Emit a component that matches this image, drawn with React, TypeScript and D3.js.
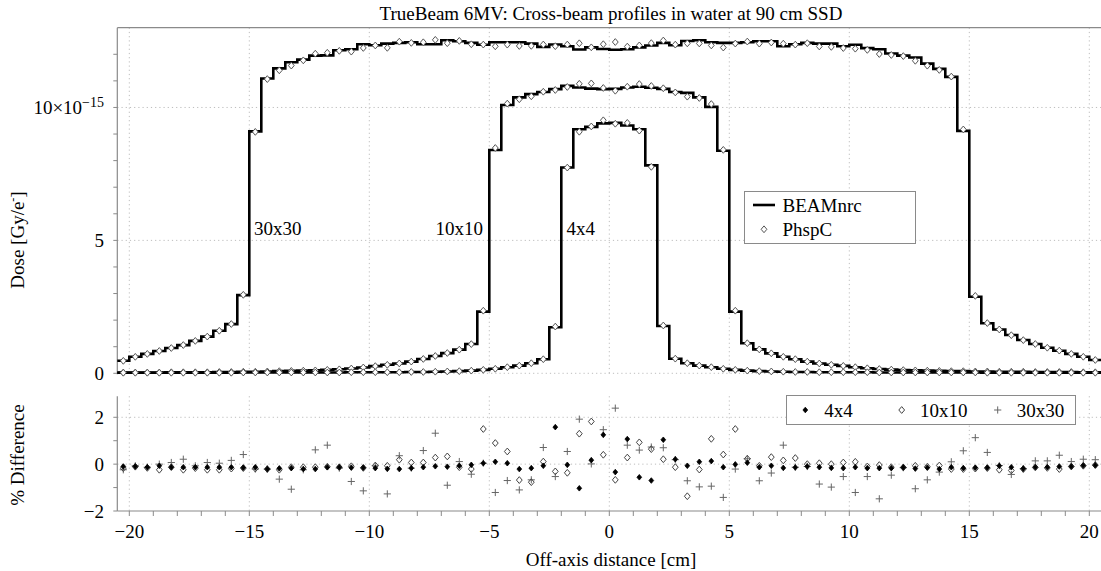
import React from "react";
import * as d3 from "d3";

// Bin centres: -20.25 ... 20.25 in 0.5 cm steps (82 bins), bin width 0.5 cm
const binCenters: number[] = [
  -20.25, -19.75, -19.25, -18.75, -18.25, -17.75, -17.25, -16.75, -16.25, -15.75,
  -15.25, -14.75, -14.25, -13.75, -13.25, -12.75, -12.25, -11.75, -11.25, -10.75,
  -10.25, -9.75, -9.25, -8.75, -8.25, -7.75, -7.25, -6.75, -6.25, -5.75,
  -5.25, -4.75, -4.25, -3.75, -3.25, -2.75, -2.25, -1.75, -1.25, -0.75,
  -0.25, 0.25, 0.75, 1.25, 1.75, 2.25, 2.75, 3.25, 3.75, 4.25,
  4.75, 5.25, 5.75, 6.25, 6.75, 7.25, 7.75, 8.25, 8.75, 9.25,
  9.75, 10.25, 10.75, 11.25, 11.75, 12.25, 12.75, 13.25, 13.75, 14.25,
  14.75, 15.25, 15.75, 16.25, 16.75, 17.25, 17.75, 18.25, 18.75, 19.25,
  19.75, 20.25,
];
const binWidth = 0.5;

// BEAMnrc dose (x1e-15 Gy/e-)
const beam30: number[] = [
  0.47, 0.62, 0.73, 0.84, 0.95, 1.06, 1.22, 1.38, 1.60, 1.85,
  2.94, 9.10, 11.09, 11.47, 11.70, 11.80, 11.95, 11.96, 12.15, 12.19,
  12.38, 12.34, 12.40, 12.43, 12.45, 12.38, 12.38, 12.53, 12.49, 12.43,
  12.36, 12.45, 12.45, 12.45, 12.40, 12.28, 12.37, 12.30, 12.18, 12.26,
  12.20, 12.17, 12.19, 12.26, 12.33, 12.43, 12.34, 12.50, 12.53, 12.45,
  12.43, 12.43, 12.45, 12.49, 12.49, 12.30, 12.38, 12.43, 12.40, 12.40,
  12.30, 12.36, 12.23, 12.19, 12.03, 11.95, 11.88, 11.65, 11.45, 11.15,
  9.12, 2.88, 1.88, 1.65, 1.44, 1.25, 1.10, 0.96, 0.85, 0.73,
  0.62, 0.50,
];
const beam10: number[] = [
  0.03, 0.03, 0.03, 0.03, 0.04, 0.04, 0.04, 0.04, 0.05, 0.05,
  0.06, 0.06, 0.07, 0.08, 0.09, 0.10, 0.11, 0.13, 0.15, 0.18,
  0.22, 0.27, 0.32, 0.37, 0.44, 0.54, 0.65, 0.76, 0.89, 1.10,
  2.32, 8.40, 10.09, 10.38, 10.50, 10.58, 10.69, 10.81, 10.75, 10.71,
  10.69, 10.70, 10.75, 10.78, 10.74, 10.70, 10.58, 10.55, 10.38, 10.02,
  8.37, 2.32, 1.13, 0.90, 0.75, 0.62, 0.53, 0.44, 0.37, 0.32,
  0.28, 0.23, 0.19, 0.16, 0.14, 0.12, 0.11, 0.10, 0.09, 0.08,
  0.08, 0.07, 0.07, 0.06, 0.06, 0.06, 0.05, 0.05, 0.05, 0.05,
  0.04, 0.04,
];
const beam4: number[] = [
  0.02, 0.02, 0.02, 0.02, 0.02, 0.02, 0.02, 0.02, 0.02, 0.02,
  0.03, 0.03, 0.03, 0.03, 0.03, 0.03, 0.03, 0.03, 0.03, 0.04,
  0.04, 0.04, 0.04, 0.04, 0.05, 0.05, 0.06, 0.07, 0.08, 0.10,
  0.13, 0.17, 0.23, 0.29, 0.38, 0.53, 1.73, 7.74, 9.18, 9.27,
  9.40, 9.42, 9.32, 9.18, 7.82, 1.78, 0.55, 0.38, 0.29, 0.23,
  0.17, 0.13, 0.10, 0.08, 0.07, 0.06, 0.05, 0.05, 0.04, 0.04,
  0.04, 0.04, 0.04, 0.03, 0.03, 0.03, 0.03, 0.03, 0.03, 0.03,
  0.03, 0.03, 0.02, 0.02, 0.02, 0.02, 0.02, 0.02, 0.02, 0.02,
  0.02, 0.02,
];

// % difference (PhspC - BEAMnrc) / BEAMnrc
const diff4: number[] = [
  -0.10, -0.10, -0.13, -0.07, -0.13, -0.13, -0.13, -0.13, -0.13, -0.13,
  -0.15, -0.13, -0.21, -0.18, -0.17, -0.21, -0.21, -0.13, -0.13, -0.15,
  -0.15, -0.17, -0.20, -0.21, -0.17, -0.13, -0.09, -0.11, -0.07, -0.03,
  0.04, 0.10, 0.04, -0.21, -0.17, -0.07, 1.58, -0.03, -1.03, 0.17,
  1.25, -0.34, 1.07, -0.56, -0.70, 1.04, 0.21, -0.07, 0.10, 0.13,
  -0.13, -0.01, 0.06, -0.13, -0.07, -0.16, -0.14, -0.10, -0.13, -0.16,
  -0.17, -0.13, -0.17, -0.17, -0.17, -0.14, -0.19, -0.15, -0.21, -0.13,
  -0.17, -0.15, -0.15, -0.07, -0.13, -0.19, -0.13, -0.13, -0.10, -0.10,
  -0.06, -0.05,
];
const diff10: number[] = [
  -0.17, -0.11, -0.16, -0.24, -0.13, -0.24, -0.17, -0.24, -0.24, -0.19,
  -0.17, -0.19, -0.21, -0.24, -0.13, -0.13, -0.13, -0.11, -0.13, -0.09,
  -0.16, -0.06, -0.07, 0.19, 0.07, 0.07, 0.28, 0.33, -0.13, -0.21,
  1.50, 0.90, 0.54, -0.68, -0.77, 0.11, -0.31, -0.37, 1.30, 1.82,
  0.40, -0.67, 0.28, 0.93, 0.64, 0.21, -0.13, -1.37, -0.23, 1.08,
  0.41, 1.50, 0.23, -0.07, 0.30, 0.16, 0.26, 0.00, 0.04, 0.00,
  0.07, 0.10, -0.10, -0.04, -0.13, -0.14, -0.07, -0.11, -0.06, -0.21,
  -0.21, -0.19, -0.17, -0.24, -0.27, -0.21, -0.14, -0.16, -0.21, -0.10,
  -0.07, -0.04,
];
const diff30: number[] = [
  -0.24, -0.07, -0.13, 0.00, 0.07, 0.21, -0.07, 0.07, 0.04, 0.16,
  0.41, -0.21, -0.21, -0.64, -1.07, -0.24, 0.61, 0.81, -0.17, -0.74,
  -1.14, -0.07, -1.27, 0.36, -0.17, 0.58, 1.32, -0.90, 0.11, -0.43,
  0.04, -1.21, -0.70, -1.10, -0.67, 0.71, -0.53, 0.54, 1.92, 0.01,
  1.47, 2.39, 0.81, 0.60, 0.73, 0.70, 0.19, -0.71, -0.97, -0.94,
  -1.42, -0.21, 0.23, -0.71, -0.38, 0.81, -0.13, -0.10, -0.85, -0.98,
  -0.53, -1.21, -0.53, -1.48, -0.47, -0.15, -1.05, -0.67, -0.34, 0.10,
  0.57, 1.13, 0.50, -0.06, -0.44, -0.19, 0.14, 0.14, 0.38, 0.11,
  0.21, 0.19,
];

const xMajorTicks: number[] = [-20, -15, -10, -5, 0, 5, 10, 15, 20];
const xTickLabels: string[] = ["\u221220", "\u221215", "\u221210", "\u22125", "0", "5", "10", "15", "20"];
const topMajorTicks: number[] = [0, 5, 10];
const bottomMajorTicks: number[] = [-2, 0, 2];
const bottomTickLabels: string[] = ["\u22122", "0", "2"];
const fieldLabels: string[] = ["30x30", "10x10", "4x4"];

const FONT = "'Liberation Serif', 'Times New Roman', serif";
const FS = 19;

const W = 1101;
const H = 571;
const left = 117.3;
const right = 1101.3;

const x = d3.scaleLinear().domain([-20.5, 20.5]).range([left, right]);
const yTop = d3.scaleLinear().domain([0, 13]).range([373.3, 27.7]);
const yBot = d3.scaleLinear().domain([-2, 2.9]).range([511, 396.2]);

const stepLine = d3
  .line<[number, number]>()
  .x((d) => x(d[0]))
  .y((d) => yTop(d[1]))
  .curve(d3.curveStepAfter);

function stepPoints(vals: number[]): [number, number][] {
  const pts: [number, number][] = vals.map((v, i) => [binCenters[i] - binWidth / 2, v]);
  pts.push([binCenters[binCenters.length - 1] + binWidth / 2, vals[vals.length - 1]]);
  return pts;
}

function diamond(cx: number, cy: number, r: number) {
  return `M${cx},${cy - r}L${cx + r * 0.85},${cy}L${cx},${cy + r}L${cx - r * 0.85},${cy}Z`;
}
function plus(cx: number, cy: number, r: number) {
  return `M${cx - r},${cy}H${cx + r}M${cx},${cy - r}V${cy + r}`;
}

const GRID = "#bdbdbd";
const AXIS = "#8a8a8a";

export default function App() {
  const curves = [
    { beam: beam30, diff: diff30 },
    { beam: beam10, diff: diff10 },
    { beam: beam4, diff: diff4 },
  ];
  const xMinor = d3.range(-20, 21, 1);
  const topMinor = d3.range(0, 13, 1);
  const botMinor = d3.range(-2, 3, 1);

  return (
    <svg width={W} height={H} style={{ display: "block", position: "absolute", left: 0, top: 0 }} fontFamily={FONT}>
      <rect x={0} y={0} width={W} height={H} fill="#fff" />
      {/* title */}
      <text x={611} y={20} textAnchor="middle" fontSize={FS}>
        TrueBeam 6MV: Cross-beam profiles in water at 90 cm SSD
      </text>

      {/* grid top */}
      {xMajorTicks.map((t) => (
        <line key={"gvt" + t} x1={x(t)} x2={x(t)} y1={yTop(13)} y2={yTop(0)} stroke={GRID} strokeDasharray="1.2,3" />
      ))}
      {topMajorTicks.map((t) => (
        <line key={"ght" + t} x1={left} x2={right} y1={yTop(t)} y2={yTop(t)} stroke={GRID} strokeDasharray="1.2,3" />
      ))}
      {/* grid bottom */}
      {xMajorTicks.map((t) => (
        <line key={"gvb" + t} x1={x(t)} x2={x(t)} y1={yBot(2.9)} y2={yBot(-2)} stroke={GRID} strokeDasharray="1.2,3" />
      ))}
      {bottomMajorTicks.filter((t) => t > -2).map((t) => (
        <line key={"ghb" + t} x1={left} x2={right} y1={yBot(t)} y2={yBot(t)} stroke={GRID} strokeDasharray="1.2,3" />
      ))}

      {/* top axes */}
      <line x1={left} x2={right} y1={yTop(13)} y2={yTop(13)} stroke={AXIS} strokeWidth={1.2} />
      <line x1={left} x2={left} y1={yTop(13)} y2={yTop(0) + 1} stroke={AXIS} strokeWidth={1.2} />
      {topMinor.map((t) => (
        <line key={"tt" + t} x1={left - 4} x2={left} y1={yTop(t)} y2={yTop(t)} stroke={AXIS} />
      ))}
      <text x={104} y={yTop(0) + 6.5} textAnchor="end" fontSize={FS}>0</text>
      <text x={104} y={yTop(5) + 6.5} textAnchor="end" fontSize={FS}>5</text>
      <text x={104} y={yTop(10) + 6.5} textAnchor="end" fontSize={FS}>
        10×10<tspan dy={-7} fontSize={14}>−15</tspan>
      </text>
      <text transform={`translate(24,240) rotate(-90)`} textAnchor="middle" fontSize={FS}>
        Dose [Gy/e<tspan dy={-7} fontSize={12}>-</tspan><tspan dy={7}>]</tspan>
      </text>

      {/* step curves */}
      {curves.map((c, k) => (
        <path key={"c" + k} d={stepLine(stepPoints(c.beam)) || ""} fill="none" stroke="#000" strokeWidth={2.6} />
      ))}
      {/* PhspC diamonds */}
      {curves.map((c, k) =>
        c.beam.map((v, i) => (
          <path
            key={"p" + k + "-" + i}
            d={diamond(x(binCenters[i]), yTop(v * (1 + c.diff[i] / 100)), 3.4)}
            fill="#fff"
            stroke="#555"
            strokeWidth={1}
          />
        ))
      )}

      {/* curve labels */}
      <text x={254} y={yTop(5.45) + 6.5} fontSize={FS}>{fieldLabels[0]}</text>
      <text x={483} y={yTop(5.45) + 6.5} textAnchor="end" fontSize={FS}>{fieldLabels[1]}</text>
      <text x={566.5} y={yTop(5.45) + 6.5} fontSize={FS}>{fieldLabels[2]}</text>

      {/* top legend */}
      <rect x={744.5} y={191.5} width={171} height={52} fill="#fff" stroke={AXIS} strokeWidth={1} />
      <line x1={753} x2={775} y1={205} y2={205} stroke="#000" strokeWidth={2.6} />
      <text x={782.5} y={211.5} fontSize={FS}>BEAMnrc</text>
      <path d={diamond(764, 229.3, 3.4)} fill="#fff" stroke="#555" strokeWidth={1} />
      <text x={782.5} y={235.5} fontSize={FS}>PhspC</text>

      {/* bottom axes */}
      <line x1={left} x2={right} y1={yBot(-2)} y2={yBot(-2)} stroke={AXIS} strokeWidth={1.2} />
      <line x1={left} x2={left} y1={yBot(2.9)} y2={yBot(-2)} stroke={AXIS} strokeWidth={1.2} />
      {botMinor.map((t) => (
        <line key={"bt" + t} x1={left - 4} x2={left} y1={yBot(t)} y2={yBot(t)} stroke={AXIS} />
      ))}
      {xMinor.map((t) => (
        <line key={"xt" + t} x1={x(t)} x2={x(t)} y1={yBot(-2)} y2={yBot(-2) + 5} stroke={AXIS} />
      ))}
      {xMajorTicks.map((t, i) => (
        <text key={"xl" + t} x={x(t)} y={538} textAnchor="middle" fontSize={FS}>{xTickLabels[i]}</text>
      ))}
      {bottomMajorTicks.map((t, i) => (
        <text key={"yl" + t} x={104} y={yBot(t) + 6.5} textAnchor="end" fontSize={FS}>{bottomTickLabels[i]}</text>
      ))}
      <text transform={`translate(24,455) rotate(-90)`} textAnchor="middle" fontSize={FS}>% Difference</text>
      <text x={611} y={566} textAnchor="middle" fontSize={FS}>Off-axis distance [cm]</text>

      {/* difference markers */}
      {diff30.map((v, i) => (
        <path key={"d30-" + i} d={plus(x(binCenters[i]), yBot(v), 3.6)} stroke="#666" strokeWidth={1} fill="none" />
      ))}
      {diff10.map((v, i) => (
        <path key={"d10-" + i} d={diamond(x(binCenters[i]), yBot(v), 3.4)} stroke="#444" strokeWidth={1} fill="none" />
      ))}
      {diff4.map((v, i) => (
        <path key={"d4-" + i} d={diamond(x(binCenters[i]), yBot(v), 2.8)} stroke="#000" strokeWidth={0.8} fill="#000" />
      ))}

      {/* bottom legend */}
      <rect x={786.5} y={395.5} width={289} height={29} fill="#fff" stroke={AXIS} strokeWidth={1} />
      <path d={diamond(805.3, 410, 2.8)} fill="#000" stroke="#000" strokeWidth={0.8} />
      <text x={824.3} y={416.5} fontSize={FS}>{fieldLabels[2]}</text>
      <path d={diamond(901.7, 410, 3.4)} fill="none" stroke="#444" strokeWidth={1} />
      <text x={920} y={416.5} fontSize={FS}>{fieldLabels[1]}</text>
      <path d={plus(997.7, 410, 3.6)} fill="none" stroke="#666" strokeWidth={1} />
      <text x={1016.7} y={416.5} fontSize={FS}>{fieldLabels[0]}</text>
    </svg>
  );
}
